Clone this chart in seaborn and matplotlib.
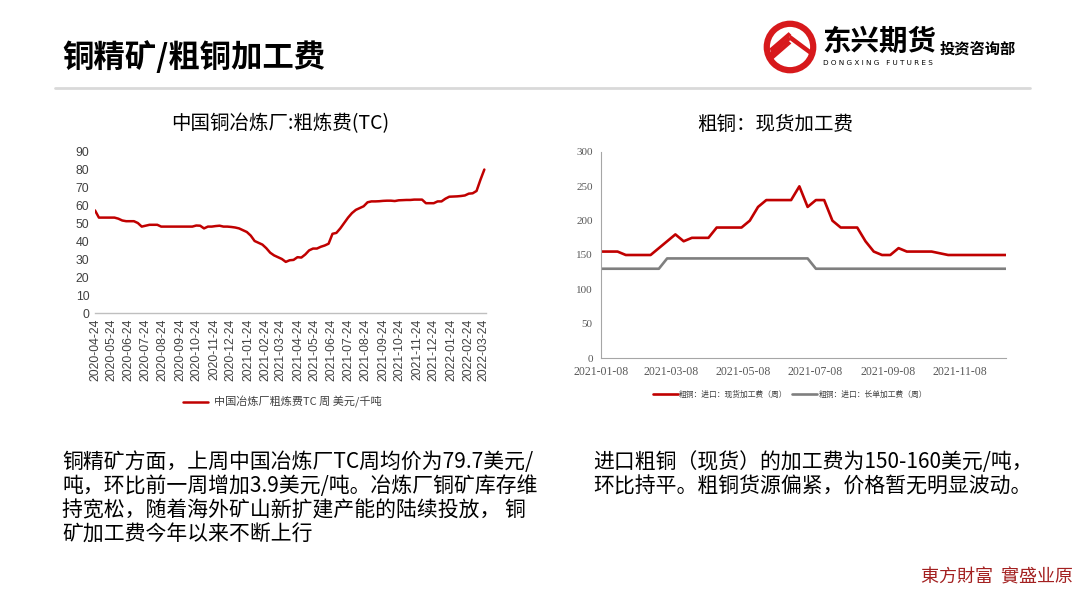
import numpy as np
import pandas as pd
import matplotlib
matplotlib.use("Agg")
import matplotlib.pyplot as plt
import matplotlib.dates as mdates
import seaborn as sns
from matplotlib.patches import Circle, Polygon

# ---------------- data ----------------
tc_start = "2020-04-24"
tc_values = [57, 53, 53, 53, 53, 53, 52.4, 51.4, 51, 51, 51, 50, 48, 48.5, 49, 49, 49,
             48, 48, 48, 48, 48, 48, 48, 48, 48, 48.6, 48.5, 47, 48, 48, 48.3, 48.5, 48,
             48, 47.8, 47.5, 47, 46, 45, 43, 40, 39, 38, 36, 33.5, 32, 31, 30, 28.4, 29.3,
             29.5, 31, 30.8, 32.5, 34.8, 35.8, 35.8, 36.8, 37.5, 38.5, 44, 44.5, 47, 50,
             53, 55.5, 57.3, 58.3, 59.3, 61.5, 62, 62, 62.1, 62.3, 62.4, 62.4, 62.2, 62.6,
             62.7, 62.8, 62.8, 63, 63, 63, 61, 61, 61, 62, 62, 63.5, 64.6, 64.7, 64.8, 65,
             65.3, 66.3, 66.5, 67.8, 74, 79.7]
tc_tick_labels = ["2020-04-24", "2020-05-24", "2020-06-24", "2020-07-24", "2020-08-24",
                  "2020-09-24", "2020-10-24", "2020-11-24", "2020-12-24", "2021-01-24",
                  "2021-02-24", "2021-03-24", "2021-04-24", "2021-05-24", "2021-06-24",
                  "2021-07-24", "2021-08-24", "2021-09-24", "2021-10-24", "2021-11-24",
                  "2021-12-24", "2022-01-24", "2022-02-24", "2022-03-24"]
tc_label = "中国冶炼厂粗炼费TC 周 美元/千吨"

blister_start = "2021-01-08"
spot_fee = [155, 155, 155, 150, 150, 150, 150, 160, 170, 180, 170, 175, 175, 175, 190,
            190, 190, 190, 200, 220, 230, 230, 230, 230, 250, 220, 230, 230, 200, 190,
            190, 190, 170, 155, 150, 150, 160, 155, 155, 155, 155, 152.5, 150, 150, 150,
            150, 150, 150, 150, 150]
long_fee = [130, 130, 130, 130, 130, 130, 130, 130, 145, 145, 145, 145, 145, 145, 145,
            145, 145, 145, 145, 145, 145, 145, 145, 145, 145, 145, 130, 130, 130, 130,
            130, 130, 130, 130, 130, 130, 130, 130, 130, 130, 130, 130, 130, 130, 130,
            130, 130, 130, 130, 130]
blister_ticks = ["2021-01-08", "2021-03-08", "2021-05-08", "2021-07-08", "2021-09-08",
                 "2021-11-08"]
spot_label = "粗铜：进口：现货加工费（周）"
long_label = "粗铜：进口：长单加工费（周）"

title = "铜精矿/粗铜加工费"
left_title = "中国铜冶炼厂:粗炼费(TC)"
right_title = "粗铜：现货加工费"
left_text = ["铜精矿方面，上周中国冶炼厂TC周均价为79.7美元/",
             "吨，环比前一周增加3.9美元/吨。冶炼厂铜矿库存维",
             "持宽松，随着海外矿山新扩建产能的陆续投放， 铜",
             "矿加工费今年以来不断上行"]
right_text = ["进口粗铜（现货）的加工费为150-160美元/吨，",
              "环比持平。粗铜货源偏紧，价格暂无明显波动。"]

# ---------------- style ----------------
sns.set_theme(style="white")
plt.rcParams["font.family"] = ["Liberation Sans", "Noto Sans CJK SC", "DejaVu Sans"]
CJK = ["Noto Sans CJK SC", "DejaVu Sans"]
RED = "#c00000"
GRAY = "#7f7f7f"

W, H = 1080, 606
fig = plt.figure(figsize=(W / 100, H / 100), dpi=100)
fig.patch.set_facecolor("white")

def fx(x):
    return x / W

def fy(y):
    return 1 - y / H

# ---------------- header ----------------
fig.text(fx(62), fy(58), title, fontsize=22.6, fontweight="bold", family=CJK,
         ha="left", va="center", color="black")
fig.add_artist(plt.Line2D([fx(55), fx(1030)], [fy(88), fy(88)], color="#d9d9d9", lw=2))

# logo
lax = fig.add_axes([fx(763), fy(74), fx(54), 54 / H])
lax.set_xlim(-1, 1)
lax.set_ylim(-1, 1)
lax.set_aspect("equal")
lax.axis("off")
lax.add_patch(Circle((0, 0), 0.86, fill=False, ec="#d7191c", lw=4.5))
for k in range(3):
    off = k * 0.16
    lax.add_patch(Polygon([(-0.75, -0.05 - off), (-0.05, 0.55 - off), (0.05, 0.45 - off),
                           (-0.7, -0.2 - off)], closed=True, fc="#d7191c", ec="none"))
lax.add_patch(Polygon([(-0.05, 0.5), (0.75, -0.1), (0.75, -0.3), (0.0, 0.25)],
                      closed=True, fc="#d7191c", ec="none"))
fig.text(fx(822), fy(42), "东兴期货", fontsize=20.5, fontweight="bold", family=CJK,
         ha="left", va="center", color="black")
fig.text(fx(823), fy(63), "D O N G X I N G   F U T U R E S", fontsize=5.2,
         family=["DejaVu Sans"], ha="left", va="center", color="black")
fig.text(fx(940), fy(49), "投资咨询部", fontsize=11, fontweight="bold", family=CJK,
         ha="left", va="center", color="black")

# ---------------- left chart ----------------
dates_tc = pd.date_range(tc_start, periods=len(tc_values), freq="7D")
df_tc = pd.DataFrame({"date": dates_tc, "value": tc_values, "series": tc_label})

ax1 = fig.add_axes([fx(95), fy(313), fx(486) - fx(95), fy(151) - fy(313)])
sns.lineplot(data=df_tc, x="date", y="value", hue="series", palette=[RED],
             linewidth=1.8, ax=ax1)
ax1.set_ylim(0, 90)
ax1.set_yticks(range(0, 91, 10))
ax1.set_xlim(dates_tc[0], dates_tc[-1] + pd.Timedelta(days=3))
ax1.set_xticks(pd.to_datetime(tc_tick_labels))
ax1.set_xticklabels(tc_tick_labels, rotation=90)
ax1.tick_params(axis="both", length=0, labelsize=8.8, colors="#404040", pad=4)
ax1.set_xlabel("")
ax1.set_ylabel("")
for s in ["left", "right", "top"]:
    ax1.spines[s].set_visible(False)
ax1.spines["bottom"].set_color("#bfbfbf")
ax1.spines["bottom"].set_linewidth(1)
ax1.grid(False)
leg1 = ax1.legend(loc="center", bbox_to_anchor=(fx(282), fy(402)),
                  bbox_transform=fig.transFigure, frameon=False,
                  handlelength=2.3, handletextpad=0.5, prop={"family": CJK, "size": 8})
for t in leg1.get_texts():
    t.set_color("#404040")
fig.text(fx(280), fy(124), left_title, fontsize=14, family=CJK, ha="center",
         va="center", color="black")

# ---------------- right chart ----------------
dates_b = pd.date_range(blister_start, periods=len(spot_fee), freq="7D")
df_b = pd.DataFrame({
    "date": list(dates_b) * 2,
    "value": spot_fee + long_fee,
    "series": [spot_label] * len(spot_fee) + [long_label] * len(long_fee),
})
ax2 = fig.add_axes([fx(601), fy(358), fx(1006) - fx(601), fy(152) - fy(358)])
sns.lineplot(data=df_b, x="date", y="value", hue="series", palette=[RED, GRAY],
             linewidth=1.9, ax=ax2)
ax2.set_ylim(0, 300)
ax2.set_yticks(range(0, 301, 50))
ax2.set_xlim(dates_b[0], dates_b[-1])
ax2.set_xticks(pd.to_datetime(blister_ticks))
ax2.set_xticklabels(blister_ticks)
serif = ["Liberation Serif", "DejaVu Serif"]
for lab in ax2.get_xticklabels() + ax2.get_yticklabels():
    lab.set_family(serif)
ax2.tick_params(axis="y", length=0, labelsize=8, colors="#595959", pad=6)
ax2.tick_params(axis="x", length=4, width=0.8, color="#a6a6a6", direction="out",
                labelsize=8.5, colors="#595959", pad=2)
ax2.set_xlabel("")
ax2.set_ylabel("")
for s in ["right", "top"]:
    ax2.spines[s].set_visible(False)
for s in ["left", "bottom"]:
    ax2.spines[s].set_color("#a6a6a6")
    ax2.spines[s].set_linewidth(0.8)
ax2.grid(False)
leg2 = ax2.legend(loc="center", bbox_to_anchor=(fx(790), fy(395)),
                  bbox_transform=fig.transFigure, frameon=False, ncol=2,
                  handlelength=3.2, handletextpad=0.2, columnspacing=0.6,
                  prop={"family": CJK, "size": 5.6})
for t in leg2.get_texts():
    t.set_color("#404040")
fig.text(fx(775), fy(124), right_title, fontsize=14, family=CJK, ha="center",
         va="center", color="black")

# ---------------- paragraphs ----------------
for i, line in enumerate(left_text):
    fig.text(fx(62), fy(462 + 24.3 * i), line, fontsize=15, family=CJK,
             ha="left", va="center", color="black")
for i, line in enumerate(right_text):
    fig.text(fx(593), fy(462 + 24.3 * i), line, fontsize=15, family=CJK,
             ha="left", va="center", color="black")

fig.text(fx(1073), fy(577), "東方財富  實盛业原", fontsize=13, family=["Noto Sans CJK TC", "Noto Sans CJK SC"],
         ha="right", va="center", color="#a32020")

fig.savefig("out.png", dpi=100, facecolor="white")
